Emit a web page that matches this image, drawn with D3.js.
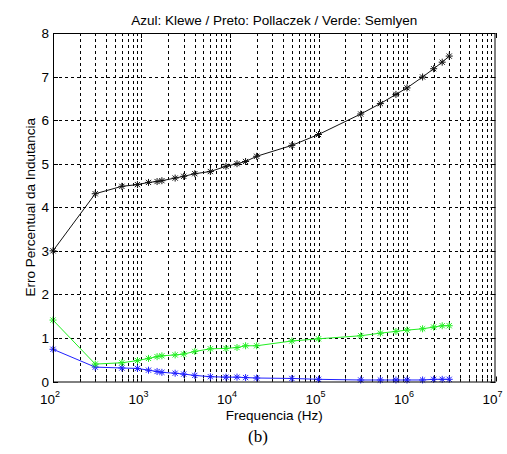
<!DOCTYPE html>
<html><head><meta charset="utf-8">
<script src="https://cdn.jsdelivr.net/npm/d3@7"></script>
<style>body{margin:0;background:#fff}svg{display:block}text{font-family:"Liberation Sans",Arial,sans-serif}</style>
</head><body><svg id="c" width="507" height="454"></svg>
<script>
const freqs = [100,300,600,900,1200,1500,1700,2400,3000,4000,6000,9000,12000,15000,20000,50000,1e5,3e5,5e5,7.5e5,1e6,1.5e6,2e6,2.5e6,3e6];
const pollaczek = [3.0,4.31,4.48,4.52,4.57,4.59,4.61,4.67,4.71,4.77,4.82,4.94,5.0,5.05,5.17,5.42,5.67,6.14,6.38,6.59,6.74,6.99,7.18,7.33,7.47];
const semlyen = [1.41,0.40,0.43,0.48,0.53,0.57,0.59,0.61,0.63,0.69,0.75,0.76,0.78,0.82,0.82,0.93,0.98,1.05,1.11,1.15,1.18,1.21,1.25,1.28,1.28];
const klewe = [0.74,0.33,0.31,0.30,0.26,0.23,0.21,0.19,0.17,0.14,0.11,0.10,0.10,0.09,0.08,0.07,0.05,0.035,0.035,0.035,0.035,0.035,0.05,0.05,0.05];
const xTickExps = [2,3,4,5,6,7];
const yTicks = [0,1,2,3,4,5,6,7,8];
const series = [
  {name:"Klewe", values:klewe, color:"#2020ff"},
  {name:"Semlyen", values:semlyen, color:"#22ee22"},
  {name:"Pollaczek", values:pollaczek, color:"#111"}
];
const title = "Azul: Klewe / Preto: Pollaczek / Verde: Semlyen";

const svg = d3.select("#c");
const L=53, R=495.5, T=33, B=381.5;
const x = d3.scaleLog().domain([1e2,1e7]).range([L,R]);
const y = d3.scaleLinear().domain([0,8]).range([B,T]);
const FS = 13.5;

const minors=[];
for(let e=2;e<7;e++) for(let m=1;m<10;m++) minors.push(m*Math.pow(10,e));
minors.push(1e7);

const g = svg.append("g");
g.selectAll(".vg").data(minors.filter(v=>v>1e2&&v<1e7)).enter().append("line")
  .attr("x1",d=>Math.round(x(d))+0.5).attr("x2",d=>Math.round(x(d))+0.5).attr("y1",T).attr("y2",B)
  .attr("stroke","#000").attr("stroke-width",1).attr("stroke-dasharray","3,3");
g.selectAll(".hg").data(yTicks.filter(v=>v>0&&v<8)).enter().append("line")
  .attr("x1",L).attr("x2",R).attr("y1",d=>Math.round(y(d))+0.5).attr("y2",d=>Math.round(y(d))+0.5)
  .attr("stroke","#000").attr("stroke-width",1).attr("stroke-dasharray","3,3");

minors.forEach(v=>{
  const major = xTickExps.some(e=>Math.abs(v-Math.pow(10,e))<1e-6);
  const len = major?5:3;
  const xx = Math.round(x(v))+0.5;
  g.append("line").attr("x1",xx).attr("x2",xx).attr("y1",B).attr("y2",B-len).attr("stroke","#000");
  g.append("line").attr("x1",xx).attr("x2",xx).attr("y1",T).attr("y2",T+len).attr("stroke","#000");
});
yTicks.forEach(v=>{
  const yy = Math.round(y(v))+0.5;
  g.append("line").attr("x1",L).attr("x2",L+5).attr("y1",yy).attr("y2",yy).attr("stroke","#000");
  g.append("line").attr("x1",R).attr("x2",R-5).attr("y1",yy).attr("y2",yy).attr("stroke","#000");
});

const line = d3.line().x((d,i)=>x(freqs[i])).y(d=>y(d));
series.forEach(s=>{
  g.append("path").datum(s.values).attr("d",line).attr("fill","none").attr("stroke",s.color).attr("stroke-width",1);
  const r=3.5, rd=2.6;
  const mk = g.append("g");
  s.values.forEach((v,i)=>{
    const cx=x(freqs[i]), cy=y(v);
    mk.append("path").attr("d",`M${cx-r},${cy}H${cx+r}M${cx},${cy-r}V${cy+r}M${cx-rd},${cy-rd}L${cx+rd},${cy+rd}M${cx-rd},${cy+rd}L${cx+rd},${cy-rd}`)
      .attr("stroke",s.color).attr("stroke-width",1).attr("fill","none");
  });
});

g.append("rect").attr("x",L+0.5).attr("y",T+0.5).attr("width",R-L-1).attr("height",B-T).attr("fill","none").attr("stroke","#000");

svg.selectAll(".yl").data(yTicks).enter().append("text")
  .attr("x",L-4).attr("y",d=>y(d)+5).attr("text-anchor","end").attr("font-size",FS).attr("fill","#000").text(d=>d);
xTickExps.forEach(e=>{
  const t = svg.append("text").attr("x",x(Math.pow(10,e))-3).attr("y",404).attr("text-anchor","middle").attr("font-size",FS).attr("fill","#000");
  t.append("tspan").text("10");
  t.append("tspan").attr("dy",-7).attr("font-size",9).text(e);
});

svg.append("text").attr("x",(L+R)/2).attr("y",25).attr("text-anchor","middle").attr("font-size",FS).text(title);
svg.append("text").attr("x",(L+R)/2).attr("y",420).attr("text-anchor","middle").attr("font-size",FS).text("Frequencia (Hz)");
svg.append("text").attr("transform",`translate(35,${(T+B)/2}) rotate(-90)`).attr("text-anchor","middle").attr("font-size",FS).text("Erro Percentual da Indutancia");
svg.append("text").attr("x",258).attr("y",442).attr("text-anchor","middle").attr("font-size",17)
  .style("font-family","'Liberation Serif','Times New Roman',serif").text("(b)");
</script></body></html>
